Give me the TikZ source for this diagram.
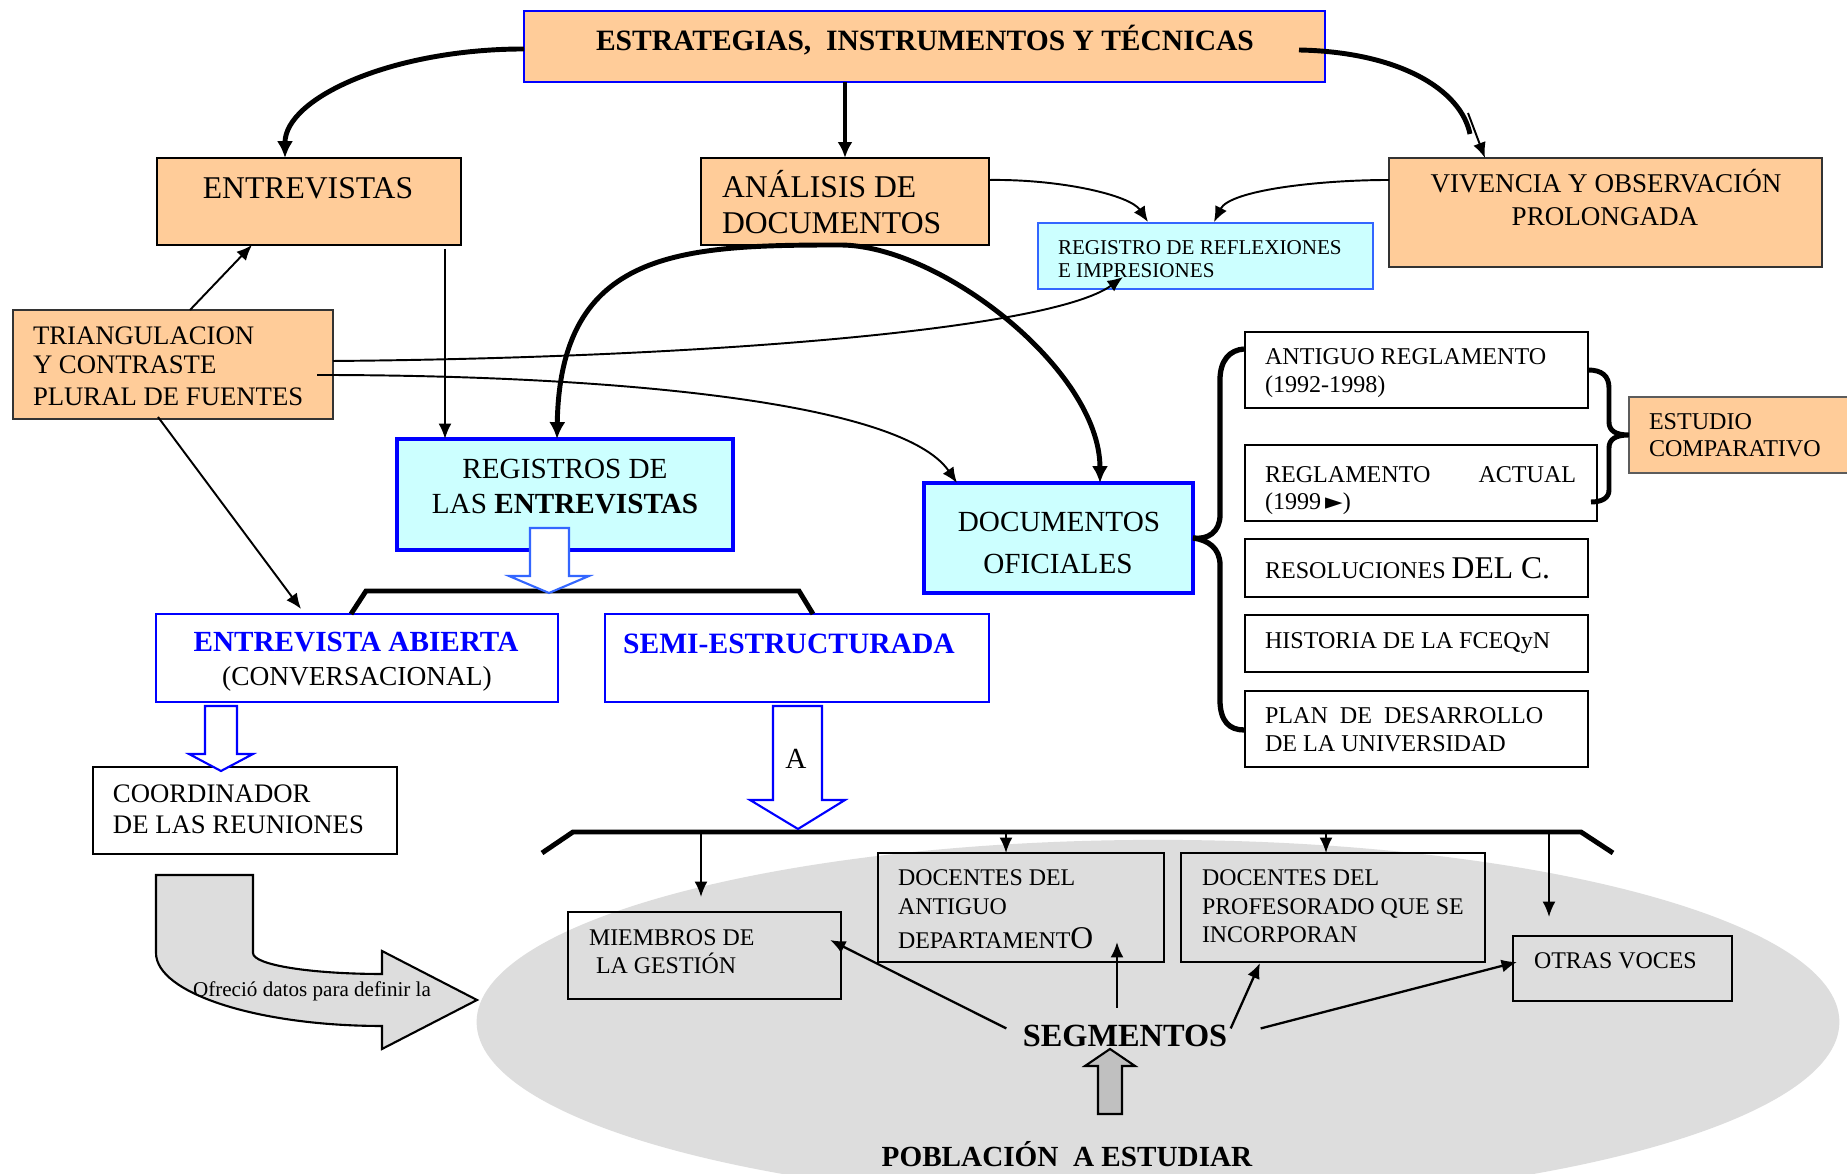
\documentclass[tikz,border=0pt]{standalone}
\usepackage{fontspec}
\setmainfont{Liberation Serif}
\newfontfamily\symfont{DejaVu Sans}
\usetikzlibrary{arrows.meta,calc,shapes.geometric}

\definecolor{peach}{HTML}{FFCC99}
\definecolor{pale}{HTML}{CCFFFF}
\definecolor{vblue}{HTML}{0000FF}
\definecolor{lblue}{HTML}{3366FF}
\definecolor{popgray}{HTML}{DDDDDD}
\definecolor{arrgray}{HTML}{C0C0C0}
\definecolor{edgegray}{HTML}{333333}

\newcommand{\fsz}[1]{\fontsize{#1}{#1}\selectfont}
% rectangle node from its corners: style, name, x1, y1, x2, y2
\newcommand{\boxat}[6]{\node[#1, minimum width={(#5-#3)*0.01cm}, minimum height={(#6-#4)*0.01cm}] (#2) at ({(#3+#5)/2},{(#4+#6)/2}) {};}

\tikzset{
  every node/.style={inner sep=0pt, outer sep=0pt},
  rect/.style={draw, rectangle, line width=0.6pt},
  peachbox/.style={rect, fill=peach},
  lbl/.style={anchor=base west},
  clbl/.style={anchor=base},
  thinarrow/.style={line width=0.55pt, -{Latex[length=4.4pt,width=3.7pt]}},
  heavy/.style={line width=1.4pt},
  heavyarrow/.style={heavy, -{Latex[length=4.8pt,width=4.6pt]}},
  hollow/.style={draw=vblue, fill=white, line width=0.6pt, line join=miter},
}

\begin{document}
\begin{tikzpicture}[x=0.01cm, y=-0.01cm]
\useasboundingbox (0,0) rectangle (1847,1174);
\fill[white] (0,0) rectangle (1847,1174);

% population ellipse
\node[ellipse, fill=popgray, minimum width=13.62cm, minimum height=3.64cm] (pop) at (1158,1022) {};

% boxes
\boxat{peachbox, draw=vblue, line width=0.7pt}{title}{524}{11}{1325}{82}
\boxat{peachbox}{entrev}{157}{158}{461}{245}
\boxat{peachbox}{analisis}{701}{158}{989}{245}
\boxat{peachbox, draw=edgegray}{vivencia}{1389}{158}{1822}{267}
\boxat{rect, fill=pale, draw=lblue}{regrefl}{1038}{223}{1373}{289}
\boxat{peachbox, draw=edgegray}{triang}{13}{310}{333}{419}
\boxat{rect, fill=pale, draw=vblue, line width=1.2pt}{regent}{397}{439}{733}{550}
\boxat{rect, fill=pale, draw=vblue, line width=1.2pt}{docof}{924}{483}{1193}{593}
\boxat{rect, draw=vblue, line width=0.7pt}{abierta}{156}{614}{558}{702}
\boxat{rect, draw=vblue, line width=0.7pt}{semi}{605}{614}{989}{702}
\boxat{rect}{coord}{93}{767}{397}{854}
\boxat{rect}{antiguo}{1245}{332}{1588}{408}
\boxat{rect}{actual}{1245}{445}{1597}{521}
\boxat{rect}{resol}{1245}{539}{1588}{597}
\boxat{rect}{historia}{1245}{615}{1588}{672}
\boxat{rect}{plan}{1245}{691}{1588}{767}
\boxat{peachbox, draw=edgegray!80}{estudio}{1629}{397}{1860}{473}
\boxat{rect}{miembros}{568}{912}{841}{999}
\boxat{rect}{docant}{878}{853}{1164}{962}
\boxat{rect}{docprof}{1181}{853}{1485}{962}
\boxat{rect}{otras}{1513}{936}{1732}{1001}

% texts
\node[clbl, font=\fsz{8.4}\bfseries] (titletxt) at (925,51) {ESTRATEGIAS,\ \ INSTRUMENTOS Y TÉCNICAS};
\node[clbl, font=\fsz{9}] (entrevtxt) at (308,199) {ENTREVISTAS};
\node[lbl, font=\fsz{9}] (analisisa) at (722,198) {ANÁLISIS DE};
\node[lbl, font=\fsz{9}] (analisisb) at (722,234) {DOCUMENTOS};
\node[clbl, font=\fsz{7.7}] (viva) at (1606,193) {VIVENCIA Y OBSERVACIÓN};
\node[clbl, font=\fsz{7.7}] (vivb) at (1605,226) {PROLONGADA};
\node[lbl, font=\fsz{6}] (refla) at (1058,255) {REGISTRO DE REFLEXIONES};
\node[lbl, font=\fsz{6}] (reflb) at (1058,278) {E IMPRESIONES};
\node[lbl, font=\fsz{7.6}] (tria) at (33,345) {TRIANGULACION};
\node[lbl, font=\fsz{7.6}] (trib) at (33,374) {Y CONTRASTE};
\node[lbl, font=\fsz{7.6}] (tric) at (33,406) {PLURAL DE FUENTES};
\node[clbl, font=\fsz{8.3}] (regenta) at (565,479) {REGISTROS DE};
\node[clbl, font=\fsz{8.3}] (regentb) at (565,514) {LAS \textbf{ENTREVISTAS}};
\node[clbl, font=\fsz{8.3}] (docofa) at (1059,532) {DOCUMENTOS};
\node[clbl, font=\fsz{8.3}] (docofb) at (1058,574) {OFICIALES};
\node[clbl, font=\fsz{8.3}\bfseries, text=vblue] (aba) at (356,652) {ENTREVISTA ABIERTA};
\node[clbl, font=\fsz{7.8}] (abb) at (357,686) {(CONVERSACIONAL)};
\node[clbl, font=\fsz{8.4}\bfseries, text=vblue] (semitxt) at (789,654) {SEMI-ESTRUCTURADA};
\node[lbl, font=\fsz{7.6}] (coorda) at (113,803) {COORDINADOR};
\node[lbl, font=\fsz{7.6}] (coordb) at (113,834) {DE LAS REUNIONES};

\node[lbl, font=\fsz{6.85}] (anta) at (1265,365) {ANTIGUO REGLAMENTO};
\node[lbl, font=\fsz{6.85}] (antb) at (1265,393) {(1992-1998)};
\node[lbl, font=\fsz{6.85}] (acta) at (1265,483) {\hbox to 88.5pt{REGLAMENTO\hfill ACTUAL}};
\node[lbl, font=\fsz{6.85}] (actb) at (1265,510) {(1999\,{\symfont\fsz{6.5}►})};
\node[lbl, font=\fsz{6.85}] (resa) at (1265,579) {RESOLUCIONES {\fsz{9}DEL C.}};
\node[lbl, font=\fsz{6.85}] (hisa) at (1265,649) {HISTORIA DE LA FCEQyN};
\node[lbl, font=\fsz{6.85}] (plana) at (1265,724) {PLAN\ \ DE\ \ DESARROLLO};
\node[lbl, font=\fsz{6.85}] (planb) at (1265,752) {DE LA UNIVERSIDAD};
\node[lbl, font=\fsz{6.85}] (esta) at (1649,430) {ESTUDIO};
\node[lbl, font=\fsz{6.85}] (estb) at (1649,457) {COMPARATIVO};

\node[lbl, font=\fsz{6.8}] (mia) at (589,946) {MIEMBROS DE};
\node[lbl, font=\fsz{6.8}] (mib) at (596,974) {LA GESTIÓN};
\node[lbl, font=\fsz{6.8}] (daa) at (898,886) {DOCENTES DEL};
\node[lbl, font=\fsz{6.8}] (dab) at (898,915) {ANTIGUO};
\node[lbl, font=\fsz{6.8}] (dac) at (898,949) {DEPARTAMENT{\fsz{9}O}};
\node[lbl, font=\fsz{6.8}] (dpa) at (1202,886) {DOCENTES DEL};
\node[lbl, font=\fsz{6.8}] (dpb) at (1202,915) {PROFESORADO QUE SE};
\node[lbl, font=\fsz{6.8}] (dpc) at (1202,943) {INCORPORAN};
\node[lbl, font=\fsz{6.8}] (otrastxt) at (1534,969) {OTRAS VOCES};
\node[clbl, font=\fsz{9.2}\bfseries] (segm) at (1125,1047) {SEGMENTOS};
\node[clbl, font=\fsz{8.3}\bfseries] (pobl) at (1067,1167) {POBLACIÓN\ \ A ESTUDIAR};

% curved block arrow towards the population
\draw[fill=popgray, line width=0.6pt] (156,875) -- (156,953)
  .. controls (156,993) and (257,1026) .. (382,1026) -- (382,1049) -- (477,1000)
  -- (382,951) -- (382,974) .. controls (311,974) and (253,965) .. (253,953)
  -- (253,875) -- cycle;
\node[clbl, font=\fsz{6}] (ofrecio) at (312,997) {Ofreció datos para definir la};

% brackets
\draw[heavy] (351,614) -- (366,591) -- (799,591) -- (813,614);
\draw[heavy] (542,853) -- (573,832) -- (1581,832) -- (1613,853);
\coordinate (ba) at (701,832);
\coordinate (bb) at (1006,832);
\coordinate (bc) at (1326,832);
\coordinate (bd) at (1549,832);

% hollow arrows
\draw[hollow, draw=lblue] (530,528) -- (569,528) -- (569,576) -- (589,576) -- (549,593) -- (509,576) -- (530,576) -- cycle;
\draw[hollow] (205,706) -- (237,706) -- (237,754) -- (253,754) -- (221,771) -- (189,754) -- (205,754) -- cycle;
\draw[hollow] (773,706) -- (822,706) -- (822,800) -- (845,800) -- (798,829) -- (750,800) -- (773,800) -- cycle;
\node[clbl, font=\fsz{8.3}] (alabel) at (796,769) {A};

% gray arrow up to the segments
\draw[fill=arrgray, line width=0.6pt] (1098,1114) -- (1098,1066) -- (1085,1066) -- (1110,1049) -- (1135,1066) -- (1122,1066) -- (1122,1114) -- cycle;

% braces
\draw[heavy, line width=1.5pt] ($(antiguo.west)+(-1,-21)$) .. controls (1230,350) and (1220,360) .. (1220,380)
  -- (1220,515) .. controls (1220,532) and (1208,540) .. (docof.east)
  .. controls (1208,540) and (1220,548) .. (1220,565)
  -- (1220,700) .. controls (1220,722) and (1230,730) .. ($(plan.west)+(-1,1)$);
\draw[heavy] (antiguo.east) .. controls (1602,370) and (1609,376) .. (1609,388)
  -- (1609,422) .. controls (1609,431) and (1616,435) .. (estudio.west)
  .. controls (1616,435) and (1609,439) .. (1609,448)
  -- (1609,490) .. controls (1609,498) and (1602,502) .. ($(actual.east)+(-6,19)$);

% connectors from the top box
\draw[heavyarrow] ($(title.west)+(0,2.5)$) .. controls (392,49) and (285,98) .. ($(entrev.north)+(-24,0)$);
\draw[line width=0.9pt, -{Latex[length=4.5pt,width=4.2pt]}] (analisis.north |- title.south) -- (analisis.north);
\coordinate (vbend) at (1468,113);
\draw[heavy] ($(title.east)+(-26,3.5)$) .. controls (1400,52) and (1461,90) .. (1470,134);
\draw[thinarrow] (vbend) -- ($(vivencia.north)+(-120.5,0)$);

% connectors to the record of reflections
\draw[thinarrow] ($(analisis.east)+(0,-21.5)$) .. controls (1060,179) and (1130,195) .. ($(regrefl.north)+(-57.5,-1)$);
\draw[thinarrow] ($(vivencia.west)+(0,-32.5)$) .. controls (1320,180) and (1230,190) .. ($(regrefl.north)+(8.5,-1)$);
\draw[thinarrow] ($(triang.east)+(0,-3.5)$) .. controls (700,358) and (1050,330) .. ($(regrefl.south)+(-82.5,-12)$);

% connectors from triangulation
\draw[thinarrow] ($(triang.east)+(-16,10.5)$) .. controls (600,375) and (900,400) .. ($(docof.north west)+(33,0)$);
\draw[thinarrow] ($(triang.north)+(17,0)$) -- ($(entrev.south west)+(95,0)$);
\draw[thinarrow] ($(triang.south)+(-15,-2)$) -- ($(abierta.north west)+(145,-5)$);

% interviews to their records
\draw[thinarrow] ($(entrev.south)+(136,4)$) -- ($(regent.north west)+(48,0)$);

% arc between interview records and official documents
\draw[heavy, {Latex[length=4.8pt,width=4.6pt]}-{Latex[length=4.8pt,width=4.6pt]}]
  ($(regent.north)+(-8,0)$) .. controls (560,250) and (680,245) .. ($(analisis.south)+(-5,0)$)
  .. controls (940,245) and (1100,370) .. ($(docof.north)+(41.5,0)$);

% from the lower bracket to the groups
\draw[thinarrow] (ba) -- ($(miembros.north west)+(133,-15)$);
\draw[thinarrow] (bb) -- ($(docant.north west)+(128,0)$);
\draw[thinarrow] (bc) -- ($(docprof.north west)+(145,0)$);
\draw[thinarrow] (bd) -- ($(otras.north west)+(36,-19)$);

% from the segments to the groups
\draw[thinarrow, line width=0.65pt] ($(segm.west)+(-16.5,-8)$) -- ($(miembros.east)+(-11,-15.5)$);
\draw[thinarrow, line width=0.65pt] ($(segm.north)+(-8,-18)$) -- ($(docant.south)+(96,-20)$);
\draw[thinarrow, line width=0.65pt] ($(segm.east)+(3.5,-8)$) -- ($(docprof.south west)+(79,1)$);
\draw[thinarrow, line width=0.65pt] ($(segm.east)+(33.5,-8)$) -- ($(otras.west)+(4,-6.5)$);
\end{tikzpicture}
\end{document}
